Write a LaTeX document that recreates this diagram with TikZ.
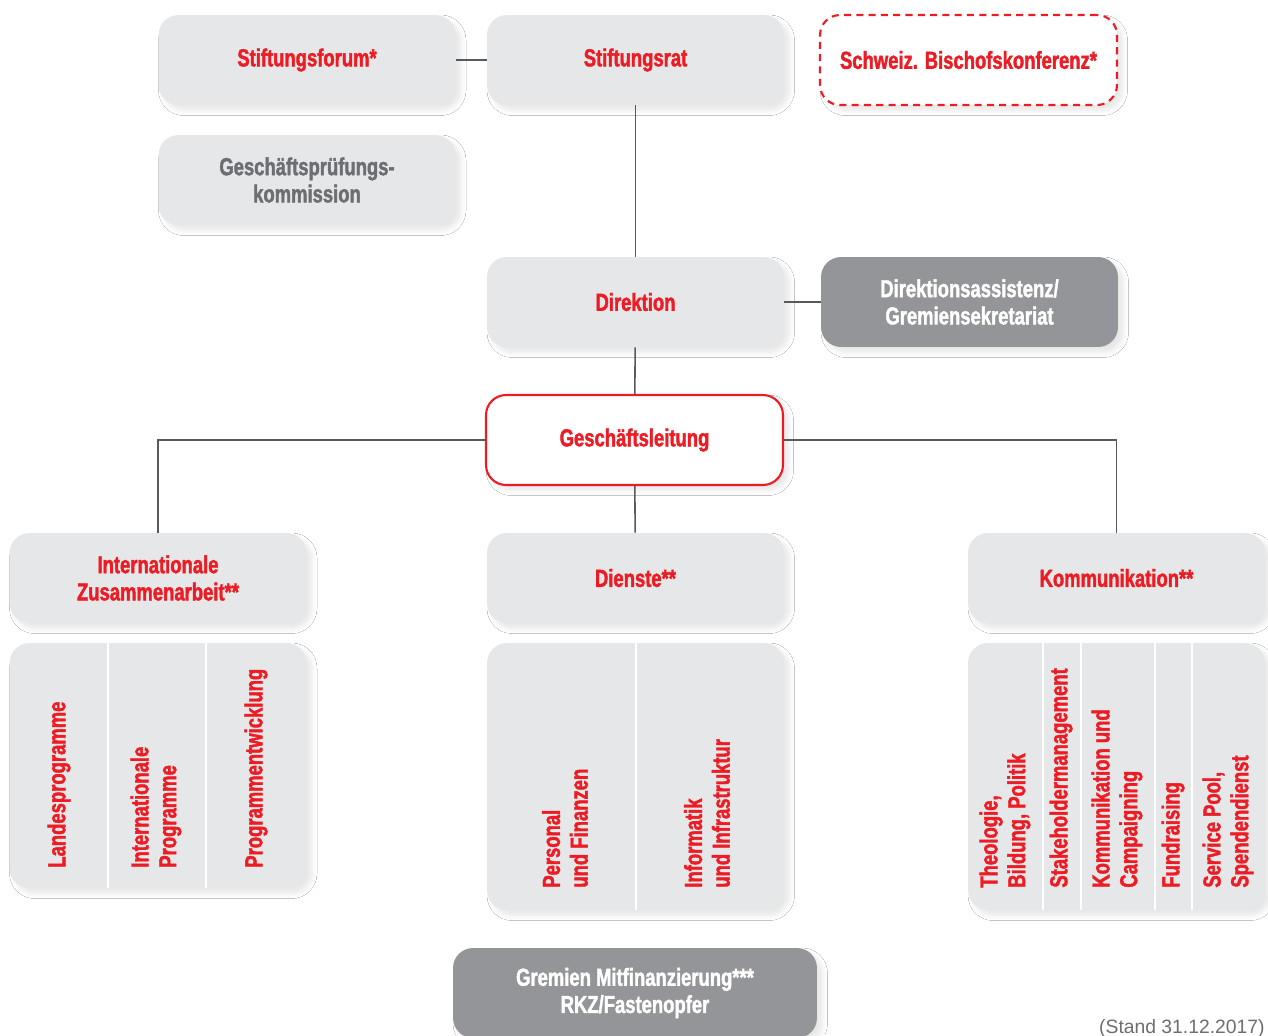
\documentclass[tikz,border=0pt]{standalone}
\usepackage{fontspec}
\setmainfont{Liberation Sans Bold}[FakeStretch=0.75, FakeBold=1.6]
\newfontfamily\standfont{Liberation Sans}
\usepackage{tikz}
\usetikzlibrary{shadows.blur}

\definecolor{ogred}{HTML}{ED1C24}
\definecolor{boxgray}{HTML}{E6E7E8}
\definecolor{dkgray}{HTML}{939598}
\definecolor{linegray}{HTML}{58595B}
\definecolor{txtgray}{HTML}{6D6E71}

\tikzset{
  orgbox/.style={rounded corners=0.4cm, fill=boxgray, minimum width=5.94cm,
    minimum height=1.8cm, align=center, text=ogred, inner sep=0pt,
    font=\fontsize{14}{15.5}\selectfont,
    blur shadow={shadow xshift=3pt, shadow yshift=-3pt, shadow blur radius=3pt,
      shadow blur steps=6, shadow opacity=10}},
  darkbox/.style={orgbox, fill=dkgray, text=white},
  glbox/.style={orgbox, fill=white, draw=ogred, line width=1.2pt},
  dashbox/.style={orgbox, fill=white, draw=ogred, line width=1.2pt, dash pattern=on 4pt off 3pt},
  coltext/.style={rotate=90, anchor=west, align=left, text=ogred, inner sep=0pt,
    font=\fontsize{14}{15.8}\selectfont},
  conn/.style={draw=linegray, line width=0.9pt},
  colsep/.style={draw=white, line width=1pt}
}

\begin{document}
\begin{tikzpicture}[x=0.02cm, y=-0.02cm]
  \clip (0,0) rectangle (1268,1035);
  \fill[white] (0,0) rectangle (1268,1035);

  % top row
  \node[orgbox] (sforum) at (307,60) {Stiftungsforum*};
  \node[orgbox] (srat) at (635.5,60) {Stiftungsrat};
  \node[dashbox] (sbk) at (968.5,60) {Schweiz. Bischofskonferenz*};
  \node[orgbox, text=txtgray] (gpk) at (307,180) {Geschäftsprüfungs-\\kommission};

  % direktion
  \node[orgbox] (dir) at (635.5,302) {Direktion};
  \node[darkbox] (dass) at (969.5,302) {Direktionsassistenz/\\Gremiensekretariat};
  \node[glbox] (gl) at (634.5,440) {Geschäftsleitung};

  % bereiche
  \node[orgbox] (iza) at (158,578) {Internationale\\Zusammenarbeit**};
  \node[orgbox] (dienste) at (635.5,578) {Dienste**};
  \node[orgbox] (komm) at (1116.5,578) {Kommunikation**};

  % abteilungen
  \node[orgbox, minimum height=4.9cm] (izacols) at (158,765.5) {};
  \node[orgbox, minimum height=5.34cm] (dcols) at (635.5,776.5) {};
  \node[orgbox, minimum height=5.34cm] (kcols) at (1116.5,776.5) {};
  \draw[colsep] (108,643) -- (108,888);
  \draw[colsep] (206,643) -- (206,888);
  \draw[colsep] (636,643) -- (636,910);
  \foreach \xs in {1043,1081,1155,1192}
    \draw[colsep] (\xs,643) -- (\xs,910);

  \node[coltext] (lp) at (59,868) {Landesprogramme};
  \node[coltext] (ip) at (156,868) {Internationale\\Programme};
  \node[coltext] (pe) at (256,868) {Programmentwicklung};
  \node[coltext] (pf) at (565,888) {Personal\\und Finanzen};
  \node[coltext] (ii) at (707,888) {Informatik\\und Infrastruktur};
  \node[coltext] (tbp) at (1005,888) {Theologie,\\Bildung, Politik};
  \node[coltext] (sm) at (1061,888) {Stakeholdermanagement};
  \node[coltext] (kc) at (1117,888) {Kommunikation und\\Campaigning};
  \node[coltext] (fr) at (1173,888) {Fundraising};
  \node[coltext] (sp) at (1228,888) {Service Pool,\\Spendendienst};

  % gremien
  \node[darkbox, minimum width=7.28cm] (grem) at (635,993) {Gremien Mitfinanzierung***\\RKZ/Fastenopfer};
  \node[anchor=base east, inner sep=0pt, text=txtgray, font=\standfont\fontsize{11}{13}\selectfont] (stand) at (1265,1033) {(Stand 31.12.2017)};

  % verbindungen
  \draw[conn] (sforum) -- (srat);
  \draw[conn] (srat) -- (dir);
  \draw[conn] (dir) -- (dass);
  \draw[conn] (dir) -- (gl);
  \draw[conn] (gl) -- (dienste);
  \draw[conn] (gl.west) -| (iza.north);
  \draw[conn] (gl.east) -| (komm.north);
\end{tikzpicture}
\end{document}
